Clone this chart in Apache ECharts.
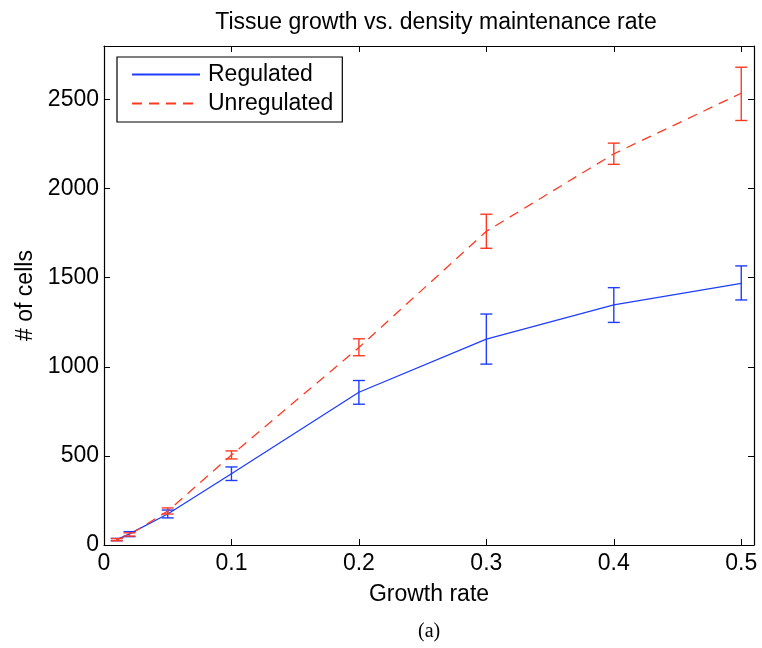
<!DOCTYPE html>
<html>
<head>
<meta charset="utf-8">
<script src="https://cdn.jsdelivr.net/npm/echarts@6/dist/echarts.min.js"></script>
<style>html,body{margin:0;padding:0;background:#fff}#c{width:762px;height:648px}</style>
</head>
<body>
<div id="c"></div>
<script>
const growthRate = [0.01, 0.02, 0.05, 0.1, 0.2, 0.3, 0.4, 0.5];
const regMean = [30, 62, 174, 400, 857, 1155, 1348, 1468];
const regLow = [24, 47, 152, 362, 790, 1015, 1249, 1375];
const regHigh = [37, 75, 196, 438, 923, 1296, 1444, 1566];
const unregMean = [30, 58, 190, 505, 1108, 1760, 2195, 2535];
const unregLow = [24, 50, 174, 483, 1062, 1665, 2136, 2382];
const unregHigh = [36, 68, 208, 528, 1157, 1856, 2255, 2681];
const xTicks = [0, 0.1, 0.2, 0.3, 0.4, 0.5];
const yTicks = [0, 500, 1000, 1500, 2000, 2500];

const BLUE = '#1f3dff';
const RED = '#ff3a22';
const FONT = '"Liberation Sans", Arial, Helvetica, sans-serif';

function errBar(color) {
  return function (params, api) {
    const x = api.value(0);
    const pLo = api.coord([x, api.value(1)]);
    const pHi = api.coord([x, api.value(2)]);
    const w = 6;
    const st = { stroke: color, lineWidth: 1.4 };
    return {
      type: 'group',
      children: [
        { type: 'line', shape: { x1: pLo[0], y1: pLo[1], x2: pHi[0], y2: pHi[1] }, style: st },
        { type: 'line', shape: { x1: pLo[0] - w, y1: pLo[1], x2: pLo[0] + w, y2: pLo[1] }, style: st },
        { type: 'line', shape: { x1: pHi[0] - w, y1: pHi[1], x2: pHi[0] + w, y2: pHi[1] }, style: st }
      ]
    };
  };
}

const regLine = growthRate.map((x, i) => [x, regMean[i]]);
const unregLine = growthRate.map((x, i) => [x, unregMean[i]]);
const regErr = growthRate.map((x, i) => [x, regLow[i], regHigh[i]]);
const unregErr = growthRate.map((x, i) => [x, unregLow[i], unregHigh[i]]);

const axisCommon = {
  axisLine: { show: true, onZero: false, lineStyle: { color: '#000', width: 1.2 } },
  axisTick: { show: true, inside: true, length: 6, lineStyle: { color: '#000', width: 1 } },
  splitLine: { show: false }
};

const chart = echarts.init(document.getElementById('c'), null, { renderer: 'canvas' });
chart.setOption({
  animation: false,
  backgroundColor: '#fff',
  title: {
    text: 'Tissue growth vs. density maintenance rate',
    left: 431, top: 6, textAlign: 'center',
    textStyle: { fontFamily: FONT, fontSize: 23, fontWeight: 'normal', color: '#000' }
  },
  grid: { left: 104, right: 8, top: 46, bottom: 103, containLabel: false },
  legend: {
    orient: 'vertical', left: 117, top: 57,
    padding: [6, 9, 7, 14], itemGap: 6, itemWidth: 68, itemHeight: 14,
    borderColor: '#000', borderWidth: 1.2, backgroundColor: '#fff',
    itemStyle: { opacity: 0 },
    textStyle: { fontFamily: FONT, fontSize: 23, color: '#000', padding: [0, 0, 0, 3] },
    data: ['Regulated', 'Unregulated']
  },
  xAxis: [
    Object.assign({}, axisCommon, {
      type: 'value', min: 0, max: 0.51, interval: 0.1, position: 'bottom',
      name: 'Growth rate', nameLocation: 'middle', nameGap: 38,
      nameTextStyle: { fontFamily: FONT, fontSize: 23, color: '#000' },
      axisLabel: {
        fontFamily: FONT, fontSize: 23, color: '#000', margin: 7,
        formatter: v => (xTicks.some(t => Math.abs(t - v) < 1e-9) ? String(v) : '')
      }
    }),
    Object.assign({}, axisCommon, {
      type: 'value', min: 0, max: 0.51, interval: 0.1, position: 'top',
      axisLabel: { show: false }
    })
  ],
  yAxis: [
    Object.assign({}, axisCommon, {
      type: 'value', min: 0, max: 2800, interval: 500, position: 'left',
      name: '# of cells', nameLocation: 'middle', nameGap: 66,
      nameTextStyle: { fontFamily: FONT, fontSize: 23, color: '#000' },
      axisLabel: {
        fontFamily: FONT, fontSize: 23, color: '#000', margin: 5,
        formatter: v => (yTicks.indexOf(v) >= 0 ? String(v) : '')
      }
    }),
    Object.assign({}, axisCommon, {
      type: 'value', min: 0, max: 2800, interval: 500, position: 'right',
      axisLabel: { show: false }
    })
  ],
  series: [
    {
      name: 'Regulated', type: 'line', data: regLine, symbol: 'none',
      lineStyle: { color: BLUE, width: 1.3, type: 'solid' }, itemStyle: { color: BLUE }, z: 3
    },
    {
      name: 'Unregulated', type: 'line', data: unregLine, symbol: 'none',
      lineStyle: { color: RED, width: 1.3, type: [10, 7] }, itemStyle: { color: RED }, z: 3
    },
    { type: 'custom', renderItem: errBar(BLUE), data: regErr, z: 4, encode: { x: 0, y: [1, 2] } },
    { type: 'custom', renderItem: errBar(RED), data: unregErr, z: 4, encode: { x: 0, y: [1, 2] } }
  ],
  graphic: [{
    type: 'text', left: 418, top: 622,
    style: { text: '(a)', fontFamily: '"Liberation Serif", "Times New Roman", serif', fontSize: 20, fill: '#000' }
  }]
});
</script>
</body>
</html>
